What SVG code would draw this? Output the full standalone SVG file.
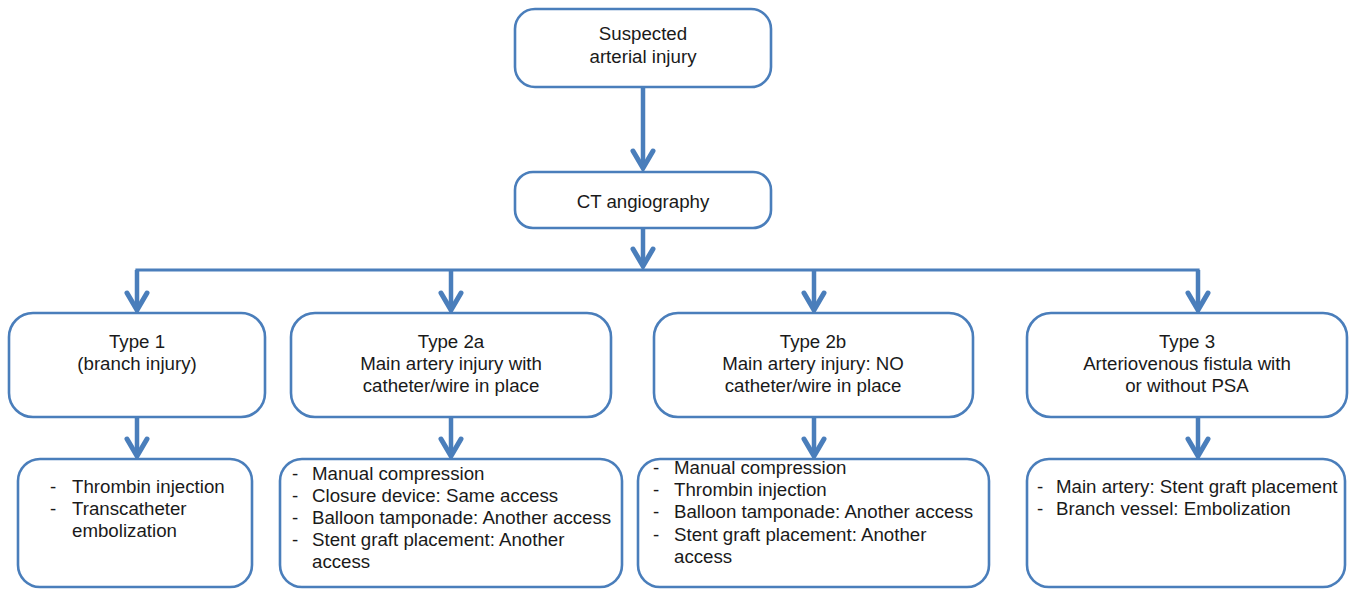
<svg xmlns="http://www.w3.org/2000/svg" width="1351" height="589" viewBox="0 0 1351 589">
<style>
.box{fill:#fff;stroke:#4a7ebb;stroke-width:2.6}
.t{font-family:"Liberation Sans",Arial,sans-serif;font-size:18.7px;fill:#1a1a1a}
.c{text-anchor:middle}
.ln{stroke:#4a7ebb;stroke-width:4.5;fill:none}
.hl{stroke:#4a7ebb;stroke-width:3.2;fill:none}
</style>
<defs>
<marker id="ah" markerUnits="userSpaceOnUse" orient="auto" markerWidth="30" markerHeight="30" refX="0" refY="0" viewBox="-22 -15 26 30" overflow="visible">
<path d="M-17,-10 L0,0 L-17,10" fill="none" stroke="#4a7ebb" stroke-width="5" stroke-linejoin="miter" stroke-linecap="round"/>
</marker>
</defs>
<rect width="1351" height="589" fill="#fff"/>
<g id="connectors">
<line class="ln" x1="643" y1="87" x2="643" y2="168" marker-end="url(#ah)"/>
<line class="ln" x1="643" y1="228" x2="643" y2="266" marker-end="url(#ah)"/>
<polyline class="hl" points="137,312 137,270 1198,270 1198,312"/>
<line class="ln" x1="137" y1="270" x2="137" y2="310" marker-end="url(#ah)"/>
<line class="ln" x1="451" y1="270" x2="451" y2="310" marker-end="url(#ah)"/>
<line class="ln" x1="814" y1="270" x2="814" y2="310" marker-end="url(#ah)"/>
<line class="ln" x1="1198" y1="270" x2="1198" y2="310" marker-end="url(#ah)"/>
<line class="ln" x1="137" y1="417" x2="137" y2="456" marker-end="url(#ah)"/>
<line class="ln" x1="451" y1="417" x2="451" y2="456" marker-end="url(#ah)"/>
<line class="ln" x1="814" y1="417" x2="814" y2="456" marker-end="url(#ah)"/>
<line class="ln" x1="1198" y1="417" x2="1198" y2="456" marker-end="url(#ah)"/>
</g>
<g id="n-suspected">
<rect class="box" x="515" y="9" width="256" height="78" rx="20"/>
<text class="t c" x="643" y="40">Suspected</text>
<text class="t c" x="643" y="63">arterial injury</text>
</g>
<g id="n-ct">
<rect class="box" x="515" y="172" width="256" height="56" rx="18"/>
<text class="t c" x="643" y="208">CT angiography</text>
</g>
<g id="n-type1">
<rect class="box" x="9" y="313" width="256" height="104" rx="24"/>
<text class="t c" x="137" y="348">Type 1</text>
<text class="t c" x="137" y="370">(branch injury)</text>
</g>
<g id="n-type2a">
<rect class="box" x="291" y="313" width="320" height="104" rx="24"/>
<text class="t c" x="451" y="348">Type 2a</text>
<text class="t c" x="451" y="370">Main artery injury with</text>
<text class="t c" x="451" y="392">catheter/wire in place</text>
</g>
<g id="n-type2b">
<rect class="box" x="654" y="313" width="319" height="104" rx="24"/>
<text class="t c" x="813" y="348">Type 2b</text>
<text class="t c" x="813" y="370">Main artery injury: NO</text>
<text class="t c" x="813" y="392">catheter/wire in place</text>
</g>
<g id="n-type3">
<rect class="box" x="1027" y="313" width="320" height="104" rx="24"/>
<text class="t c" x="1187" y="348">Type 3</text>
<text class="t c" x="1187" y="370">Arteriovenous fistula with</text>
<text class="t c" x="1187" y="392">or without PSA</text>
</g>
<g id="n-tx1">
<rect class="box" x="18" y="459" width="234" height="128" rx="22"/>
<text class="t" x="50" y="493">-</text><text class="t" x="72" y="493">Thrombin injection</text>
<text class="t" x="50" y="515">-</text><text class="t" x="72" y="515">Transcatheter</text>
<text class="t" x="72" y="537">embolization</text>
</g>
<g id="n-tx2a">
<rect class="box" x="280" y="459" width="342" height="128" rx="22"/>
<text class="t" x="292" y="480">-</text><text class="t" x="312" y="480">Manual compression</text>
<text class="t" x="292" y="502">-</text><text class="t" x="312" y="502">Closure device: Same access</text>
<text class="t" x="292" y="524">-</text><text class="t" x="312" y="524">Balloon tamponade: Another access</text>
<text class="t" x="292" y="546">-</text><text class="t" x="312" y="546">Stent graft placement: Another</text>
<text class="t" x="312" y="568">access</text>
</g>
<g id="n-tx2b">
<rect class="box" x="638" y="459" width="351" height="128" rx="22"/>
<text class="t" x="653" y="474">-</text><text class="t" x="674" y="474">Manual compression</text>
<text class="t" x="653" y="496">-</text><text class="t" x="674" y="496">Thrombin injection</text>
<text class="t" x="653" y="518">-</text><text class="t" x="674" y="518">Balloon tamponade: Another access</text>
<text class="t" x="653" y="541">-</text><text class="t" x="674" y="541">Stent graft placement: Another</text>
<text class="t" x="674" y="563">access</text>
</g>
<g id="n-tx3">
<rect class="box" x="1027" y="459" width="318" height="128" rx="22"/>
<text class="t" x="1037" y="493">-</text><text class="t" x="1056" y="493">Main artery: Stent graft placement</text>
<text class="t" x="1037" y="515">-</text><text class="t" x="1056" y="515">Branch vessel: Embolization</text>
</g>
</svg>
